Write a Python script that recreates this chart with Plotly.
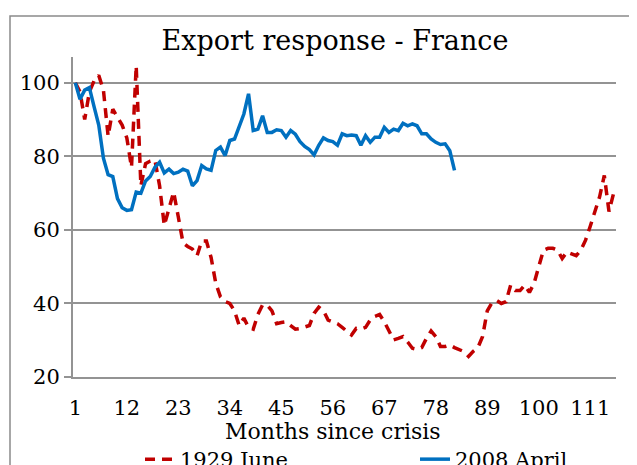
import plotly.graph_objects as go

months = list(range(1, 117))

june_1929 = [100, 97.5, 90, 97.5, 100.5, 102, 98, 85.5, 92.8, 90.8,
             88.5, 85, 77, 104.6, 72, 78, 78.7, 79, 72, 61.2,
             65.5, 70.3, 63.5, 56.5, 55.5, 54.8, 53, 57, 57, 52.5,
             45.5, 41.8, 40.5, 40, 38, 34, 36, 33.5, 33, 37,
             39.6, 39.5, 38, 34.5, 34.8, 35, 34, 33, 33.2, 33.5,
             34, 37.3, 39, 38, 35.5, 35, 34.5, 33.5, 32.5, 31.4,
             33.2, 33, 33.5, 35.5, 36.5, 37, 35, 32.5, 30.1, 30.5,
             31, 29.5, 27.8, 27.5, 28, 30.5, 32.5, 31, 28.3, 28.3,
             28.7, 28, 27.5, 26.9, 25.6, 27, 28, 31, 38, 40.2,
             40.8, 40, 40.5, 45, 43.5, 43.5, 45, 43, 45.5, 50,
             54.5, 55, 55, 54.5, 52.2, 54, 53.5, 53, 54.5, 57.2,
             61, 65, 69, 74.8, 65, 70]

april_2008 = [100, 95.5, 98, 98.7, 93.5, 88.5, 79.5, 75, 74.5, 68.5,
              66, 65.3, 65.5, 70.3, 70, 73.3, 74.5, 77, 78.4, 75.5,
              76.5, 75.3, 75.7, 76.5, 76, 72, 73.4, 77.5, 76.6, 76.2,
              81.6, 82.5, 80.2, 84.3, 84.7, 88.3, 91.5, 97, 87, 87.4,
              91, 86.5, 86.5, 87.2, 87, 85.2, 87, 86, 84, 82.7,
              81.8, 80.4, 83, 85, 84.3, 84, 83, 86.1, 85.6, 85.8,
              85.6, 83, 85.6, 83.8, 85.2, 85.2, 87.9, 86.5, 87.4, 87,
              89, 88.3, 88.8, 88.3, 86.1, 86.1, 84.7, 83.8, 83.2, 83.4,
              81.5, 76.2]

x_ticks = [1, 12, 23, 34, 45, 56, 67, 78, 89, 100, 111]
y_ticks = [20, 40, 60, 80, 100]

FONT = "DejaVu Serif"
GRID = "#939393"

fig = go.Figure()
fig.add_trace(go.Scatter(x=months[:len(june_1929)], y=june_1929, mode="lines",
                         name="1929 June", legendwidth=230,
                         line=dict(color="#C00000", width=3.5, dash="10px,7px")))
fig.add_trace(go.Scatter(x=months[:len(april_2008)], y=april_2008, mode="lines",
                         name="2008 April",
                         line=dict(color="#0070C0", width=3.5)))

# The page body has an 8px margin; the figure is sized so it ends at the window edge.
OFF = 8
W, H = 637 - OFF, 465 - OFF
# plot area in page pixels
PL, PR, PT, PB = 73, 616, 57, 377
L, R, T, B = PL - OFF, W - (PR - OFF), PT - OFF, H - (PB - OFF)
pw, ph = PR - PL, PB - PT

def px_x(p):
    return (p - PL) / pw

def px_y(p):
    return (PB - p) / ph

fig.update_layout(
    width=W, height=H,
    margin=dict(l=L, r=R, t=T, b=B, autoexpand=False),
    paper_bgcolor="white", plot_bgcolor="white",
    font=dict(family=FONT, color="black", size=21),
    title=dict(text="Export response - France", xref="container", yref="container",
               x=(335 - OFF) / W, y=1 - (41 - OFF) / H, xanchor="center", yanchor="middle",
               font=dict(family=FONT, size=27, color="black")),
    showlegend=True,
    legend=dict(orientation="h", x=px_x(140), xanchor="left", y=px_y(439), yanchor="top",
                font=dict(family=FONT, size=21, color="black"),
                bgcolor="rgba(0,0,0,0)"),
    xaxis=dict(range=[0.5, 116.5], tickmode="array", tickvals=x_ticks,
               ticktext=[str(v) for v in x_ticks], showgrid=False, zeroline=False,
               showline=True, linecolor=GRID, linewidth=2,
               ticks="outside", ticklen=11, tickcolor="rgba(0,0,0,0)",
               tickfont=dict(family=FONT, size=21, color="black")),
    yaxis=dict(range=[20, 107], tickmode="array", tickvals=y_ticks,
               showgrid=True, gridcolor=GRID, gridwidth=2, zeroline=False,
               showline=True, linecolor=GRID, linewidth=2,
               ticks="outside", ticklen=7, tickcolor=GRID, tickwidth=2,
               tickfont=dict(family=FONT, size=21, color="black")),
    annotations=[dict(text="Months since crisis", xref="paper", yref="paper",
                      x=px_x(332.5), y=px_y(431), xanchor="center", yanchor="middle",
                      showarrow=False, font=dict(family=FONT, size=22, color="black"))],
    shapes=[dict(type="rect", xref="paper", yref="paper",
                 x0=px_x(10), x1=px_x(700), y0=px_y(560), y1=px_y(16),
                 line=dict(color="#8a8a8a", width=1.5), fillcolor="rgba(0,0,0,0)",
                 layer="below")],
)

fig.write_html("out.html")
